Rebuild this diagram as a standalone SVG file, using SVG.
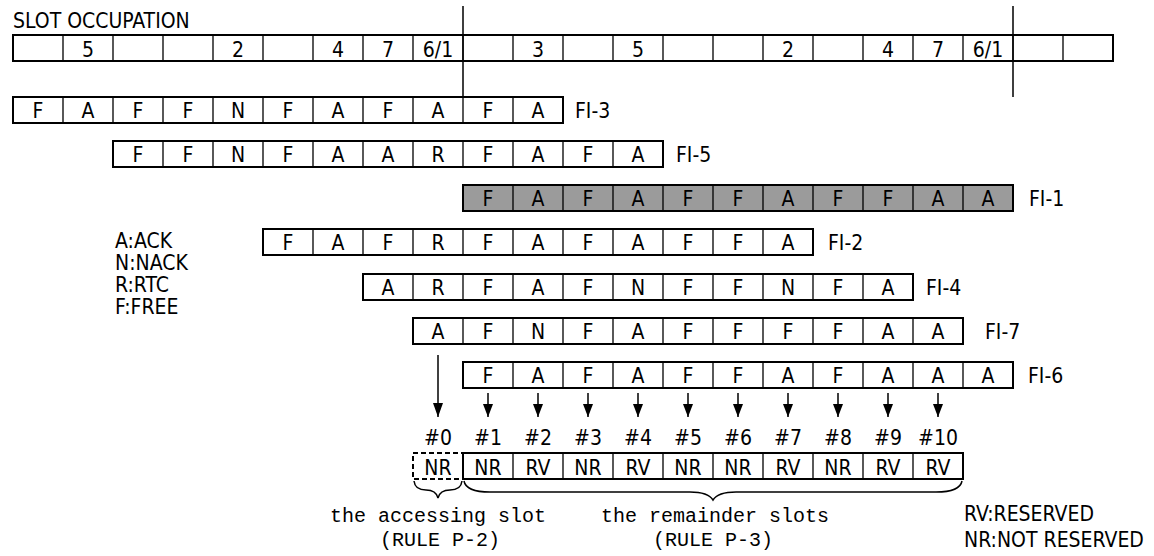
<svg xmlns="http://www.w3.org/2000/svg" width="1154" height="556" viewBox="0 0 1154 556">
<style>
.bg{fill:#fff}
.box{fill:#fff;stroke:#000;stroke-width:2}
.grey{fill:#9b9b9b;stroke:#000;stroke-width:2}
.div{stroke:#000;stroke-width:1.3}
.t{font-family:"Liberation Sans Narrow","DejaVu Sans Condensed","Liberation Sans",sans-serif;font-size:21px;fill:#000;text-anchor:middle}
.l{font-family:"Liberation Sans Narrow","DejaVu Sans Condensed","Liberation Sans",sans-serif;font-size:21px;fill:#000}
.m{font-family:"Liberation Mono","DejaVu Sans Mono",monospace;font-size:20px;fill:#000;text-anchor:middle}
.ln{stroke:#000;stroke-width:1.5;fill:none}
.dash{fill:none;stroke:#000;stroke-width:2;stroke-dasharray:5,3}
</style>
<defs>
<marker id="ah" viewBox="0 0 14 10" refX="14" refY="5" markerWidth="14" markerHeight="10" orient="auto" markerUnits="userSpaceOnUse">
<path d="M0,0 L14,5 L0,10 z" fill="#000"/>
</marker>
</defs>
<rect class="bg" width="1154" height="556"/>

<g id="slot-occupation">
<text class="l" x="13" y="28">SLOT OCCUPATION</text>
<rect class="box" x="13" y="35" width="1100" height="26"/>
<path class="div" d="M63,35V61M113,35V61M163,35V61M213,35V61M263,35V61M313,35V61M363,35V61M413,35V61M463,35V61M513,35V61M563,35V61M613,35V61M663,35V61M713,35V61M763,35V61M813,35V61M863,35V61M913,35V61M963,35V61M1013,35V61M1063,35V61"/>
<text class="t" x="88" y="57">5</text>
<text class="t" x="238" y="57">2</text>
<text class="t" x="338" y="57">4</text>
<text class="t" x="388" y="57">7</text>
<text class="t" x="438" y="57">6/1</text>
<text class="t" x="538" y="57">3</text>
<text class="t" x="638" y="57">5</text>
<text class="t" x="788" y="57">2</text>
<text class="t" x="888" y="57">4</text>
<text class="t" x="938" y="57">7</text>
<text class="t" x="988" y="57">6/1</text>
<path class="ln" d="M463,6V97M1013,6V97"/>
</g>

<g id="fi-3">
<rect class="box" x="13" y="97" width="550" height="26"/>
<path class="div" d="M63,97v26M113,97v26M163,97v26M213,97v26M263,97v26M313,97v26M363,97v26M413,97v26M463,97v26M513,97v26"/>
<text class="t" x="38" y="118">F</text><text class="t" x="88" y="118">A</text><text class="t" x="138" y="118">F</text><text class="t" x="188" y="118">F</text><text class="t" x="238" y="118">N</text><text class="t" x="288" y="118">F</text><text class="t" x="338" y="118">A</text><text class="t" x="388" y="118">F</text><text class="t" x="438" y="118">A</text><text class="t" x="488" y="118">F</text><text class="t" x="538" y="118">A</text>
<text class="l" x="575" y="118">FI-3</text>
</g>

<g id="fi-5">
<rect class="box" x="113" y="141" width="550" height="26"/>
<path class="div" d="M163,141v26M213,141v26M263,141v26M313,141v26M363,141v26M413,141v26M463,141v26M513,141v26M563,141v26M613,141v26"/>
<text class="t" x="138" y="162">F</text><text class="t" x="188" y="162">F</text><text class="t" x="238" y="162">N</text><text class="t" x="288" y="162">F</text><text class="t" x="338" y="162">A</text><text class="t" x="388" y="162">A</text><text class="t" x="438" y="162">R</text><text class="t" x="488" y="162">F</text><text class="t" x="538" y="162">A</text><text class="t" x="588" y="162">F</text><text class="t" x="638" y="162">A</text>
<text class="l" x="676" y="162">FI-5</text>
</g>

<g id="fi-1">
<rect class="grey" x="463" y="185" width="550" height="26"/>
<path class="div" d="M513,185v26M563,185v26M613,185v26M663,185v26M713,185v26M763,185v26M813,185v26M863,185v26M913,185v26M963,185v26"/>
<text class="t" x="488" y="206">F</text><text class="t" x="538" y="206">A</text><text class="t" x="588" y="206">F</text><text class="t" x="638" y="206">A</text><text class="t" x="688" y="206">F</text><text class="t" x="738" y="206">F</text><text class="t" x="788" y="206">A</text><text class="t" x="838" y="206">F</text><text class="t" x="888" y="206">F</text><text class="t" x="938" y="206">A</text><text class="t" x="988" y="206">A</text>
<text class="l" x="1029" y="206">FI-1</text>
</g>

<g id="fi-2">
<rect class="box" x="263" y="229" width="550" height="26"/>
<path class="div" d="M313,229v26M363,229v26M413,229v26M463,229v26M513,229v26M563,229v26M613,229v26M663,229v26M713,229v26M763,229v26"/>
<text class="t" x="288" y="250">F</text><text class="t" x="338" y="250">A</text><text class="t" x="388" y="250">F</text><text class="t" x="438" y="250">R</text><text class="t" x="488" y="250">F</text><text class="t" x="538" y="250">A</text><text class="t" x="588" y="250">F</text><text class="t" x="638" y="250">A</text><text class="t" x="688" y="250">F</text><text class="t" x="738" y="250">F</text><text class="t" x="788" y="250">A</text>
<text class="l" x="828" y="250">FI-2</text>
</g>

<g id="fi-4">
<rect class="box" x="363" y="274" width="550" height="26"/>
<path class="div" d="M413,274v26M463,274v26M513,274v26M563,274v26M613,274v26M663,274v26M713,274v26M763,274v26M813,274v26M863,274v26"/>
<text class="t" x="388" y="295">A</text><text class="t" x="438" y="295">R</text><text class="t" x="488" y="295">F</text><text class="t" x="538" y="295">A</text><text class="t" x="588" y="295">F</text><text class="t" x="638" y="295">N</text><text class="t" x="688" y="295">F</text><text class="t" x="738" y="295">F</text><text class="t" x="788" y="295">N</text><text class="t" x="838" y="295">F</text><text class="t" x="888" y="295">A</text>
<text class="l" x="926" y="295">FI-4</text>
</g>

<g id="fi-7">
<rect class="box" x="413" y="318" width="550" height="26"/>
<path class="div" d="M463,318v26M513,318v26M563,318v26M613,318v26M663,318v26M713,318v26M763,318v26M813,318v26M863,318v26M913,318v26"/>
<text class="t" x="438" y="339">A</text><text class="t" x="488" y="339">F</text><text class="t" x="538" y="339">N</text><text class="t" x="588" y="339">F</text><text class="t" x="638" y="339">A</text><text class="t" x="688" y="339">F</text><text class="t" x="738" y="339">F</text><text class="t" x="788" y="339">F</text><text class="t" x="838" y="339">F</text><text class="t" x="888" y="339">A</text><text class="t" x="938" y="339">A</text>
<text class="l" x="985" y="339">FI-7</text>
</g>

<g id="fi-6">
<rect class="box" x="463" y="362" width="550" height="26"/>
<path class="div" d="M513,362v26M563,362v26M613,362v26M663,362v26M713,362v26M763,362v26M813,362v26M863,362v26M913,362v26M963,362v26"/>
<text class="t" x="488" y="383">F</text><text class="t" x="538" y="383">A</text><text class="t" x="588" y="383">F</text><text class="t" x="638" y="383">A</text><text class="t" x="688" y="383">F</text><text class="t" x="738" y="383">F</text><text class="t" x="788" y="383">A</text><text class="t" x="838" y="383">F</text><text class="t" x="888" y="383">A</text><text class="t" x="938" y="383">A</text><text class="t" x="988" y="383">A</text>
<text class="l" x="1028" y="383">FI-6</text>
</g>

<g id="legend-codes">
<text class="l" x="115" y="248">A:ACK</text>
<text class="l" x="115" y="270">N:NACK</text>
<text class="l" x="115" y="292">R:RTC</text>
<text class="l" x="115" y="314">F:FREE</text>
</g>

<g id="connectors">
<path class="ln" d="M438,355V417" marker-end="url(#ah)"/>
<path class="ln" d="M488,393V417M538,393V417M588,393V417M638,393V417M688,393V417M738,393V417M788,393V417M838,393V417M888,393V417M938,393V417"/>
<g fill="#000">
<path d="M483,404h10l-5,13z"/><path d="M533,404h10l-5,13z"/><path d="M583,404h10l-5,13z"/><path d="M633,404h10l-5,13z"/><path d="M683,404h10l-5,13z"/><path d="M733,404h10l-5,13z"/><path d="M783,404h10l-5,13z"/><path d="M833,404h10l-5,13z"/><path d="M883,404h10l-5,13z"/><path d="M933,404h10l-5,13z"/>
</g>
</g>

<g id="slot-numbers">
<text class="t" x="438" y="445">#0</text><text class="t" x="488" y="445">#1</text><text class="t" x="538" y="445">#2</text><text class="t" x="588" y="445">#3</text><text class="t" x="638" y="445">#4</text><text class="t" x="688" y="445">#5</text><text class="t" x="738" y="445">#6</text><text class="t" x="788" y="445">#7</text><text class="t" x="838" y="445">#8</text><text class="t" x="888" y="445">#9</text><text class="t" x="938" y="445">#10</text>
</g>

<g id="accessing-slot">
<rect class="dash" x="413" y="453" width="50" height="26"/>
<text class="t" x="438" y="475">NR</text>
</g>

<g id="reservation-row">
<rect class="box" x="463" y="453" width="500" height="26"/>
<path class="div" d="M513,453v26M563,453v26M613,453v26M663,453v26M713,453v26M763,453v26M813,453v26M863,453v26M913,453v26"/>
<text class="t" x="488" y="475">NR</text><text class="t" x="538" y="475">RV</text><text class="t" x="588" y="475">NR</text><text class="t" x="638" y="475">RV</text><text class="t" x="688" y="475">NR</text><text class="t" x="738" y="475">NR</text><text class="t" x="788" y="475">RV</text><text class="t" x="838" y="475">NR</text><text class="t" x="888" y="475">RV</text><text class="t" x="938" y="475">RV</text>
</g>

<g id="braces">
<path class="ln" d="M414,481 Q415,490 426,490 Q436,490 438,498 Q440,490 450,490 Q461,490 462,481"/>
<path class="ln" d="M464,481 Q466,492 490,492 L690,492 Q708,492 713,500 Q718,492 736,492 L936,492 Q960,492 962,481"/>
</g>

<g id="captions">
<text class="m" x="438" y="522">the accessing slot</text>
<text class="m" x="440" y="546">(RULE P-2)</text>
<text class="m" x="715" y="522">the remainder slots</text>
<text class="m" x="713" y="546">(RULE P-3)</text>
<text class="l" x="964" y="521">RV:RESERVED</text>
<text class="l" x="964" y="547">NR:NOT RESERVED</text>
</g>
</svg>
